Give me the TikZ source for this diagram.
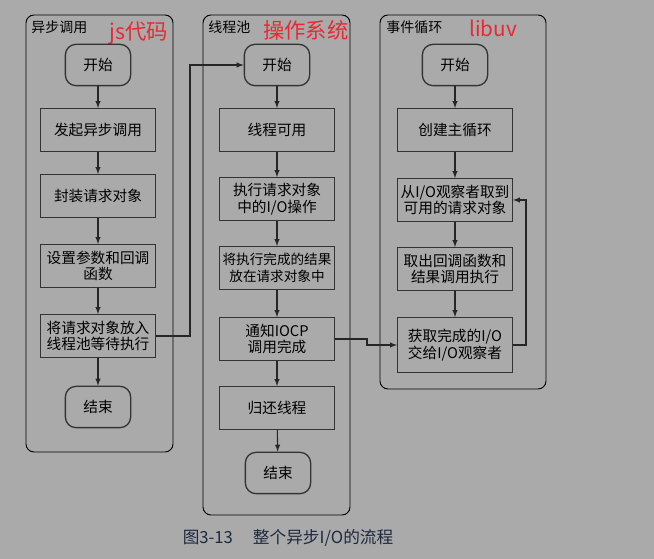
\documentclass[tikz,border=0pt]{standalone}
\usepackage{fontspec}
\usepackage{tikz}
\usetikzlibrary{shapes,calc}
\newfontfamily\cjk{Noto Sans CJK SC}
\definecolor{bggray}{RGB}{170,170,170}
\definecolor{lbred}{RGB}{235,40,50}
\definecolor{capblue}{RGB}{30,40,62}

\tikzset{
  lane/.style={draw=black,line width=0.7pt,rounded corners=6pt},
  stepbox/.style={draw=black!80,line width=1pt,minimum width=86pt,minimum height=32pt,
    align=center,inner sep=1pt,font=\cjk\fontsize{11pt}{12.5pt}\selectfont},
  termbox/.style={stepbox,rounded corners=8pt,minimum width=49pt,minimum height=31pt},
  lanetitle/.style={anchor=west,inner sep=0pt,font=\cjk\fontsize{10.5pt}{12pt}\selectfont},
  redtag/.style={anchor=west,inner sep=0pt,text=lbred,font=\cjk\fontsize{16pt}{18pt}\selectfont},
  arr/.style={-latex,line width=0.8pt,black!85}
}

\begin{document}
\begin{tikzpicture}[x=0.75pt,y=-0.75pt]
    \fill[bggray] (0,0) rectangle (654,559);
    \useasboundingbox (0,0) rectangle (654,559);

    % lanes
    \draw[lane] (26,15) rectangle (173,452);
    \draw[lane] (203,15) rectangle (350,515);
    \draw[lane] (380,15) rectangle (546,389);
    \node[lanetitle] (t1) at (31,27) {异步调用};
    \node[lanetitle] (t2) at (208,27) {线程池};
    \node[lanetitle] (t3) at (386,27) {事件循环};
    \node[redtag] (r1) at (109,33) {js代码};
    \node[redtag] (r2) at (263,30) {操作系统};
    \node[redtag,font=\cjk\fontsize{15.5pt}{18pt}\selectfont] (r3) at (469,28) {libuv};

    % js side
    \node[termbox] (js0) at (98,65) {开始};
    \node[stepbox] (js1) at (98,130) {发起异步调用};
    \node[stepbox] (js2) at (98,196) {封装请求对象};
    \node[stepbox] (js3) at (98,266) {设置参数和回调\\函数};
    \node[stepbox] (js4) at (98,336) {将请求对象放入\\线程池等待执行};
    \node[termbox] (js5) at (98,407) {结束};

    % thread pool
    \node[termbox] (tp0) at (277,65) {开始};
    \node[stepbox] (tp1) at (277,130) {线程可用};
    \node[stepbox] (tp2) at (277,199) {执行请求对象\\中的I/O操作};
    \node[stepbox,font=\cjk\fontsize{10.2pt}{12.5pt}\selectfont] (tp3) at (277,268) {将执行完成的结果\\放在请求对象中};
    \node[stepbox] (tp4) at (277,339) {通知IOCP\\调用完成};
    \node[stepbox] (tp5) at (277,408) {归还线程};
    \node[termbox] (tp6) at (278,473) {结束};

    % event loop
    \node[termbox] (ev0) at (455,65) {开始};
    \node[stepbox] (ev1) at (455,130) {创建主循环};
    \node[stepbox] (ev2) at (455,200) {从I/O观察者取到\\可用的请求对象};
    \node[stepbox] (ev3) at (455,269) {取出回调函数和\\结果调用执行};
    \node[stepbox,minimum height=41pt] (ev4) at (455,345) {获取完成的I/O\\交给I/O观察者};

    \foreach \a/\b in {js0/js1,js1/js2,js2/js3,js3/js4,js4/js5,
                       tp0/tp1,tp1/tp2,tp2/tp3,tp3/tp4,tp4/tp5,tp5/tp6,
                       ev0/ev1,ev1/ev2,ev2/ev3,ev3/ev4}
      \draw[arr] (\a) -- (\b);

    \draw[arr] (js4.east) -- ++(34,0) |- (tp0.west);
    \draw[arr] (tp4.east) -- ++(32,0) |- (ev4.west);
    \draw[arr] (ev4.east) -- ++(13,0) |- (ev2.east);

    \node[text=capblue,font=\cjk\fontsize{12.5pt}{14pt}\selectfont] (cap) at (288,538) {图3-13\hspace{15pt}整个异步I/O的流程};
\end{tikzpicture}
\end{document}
